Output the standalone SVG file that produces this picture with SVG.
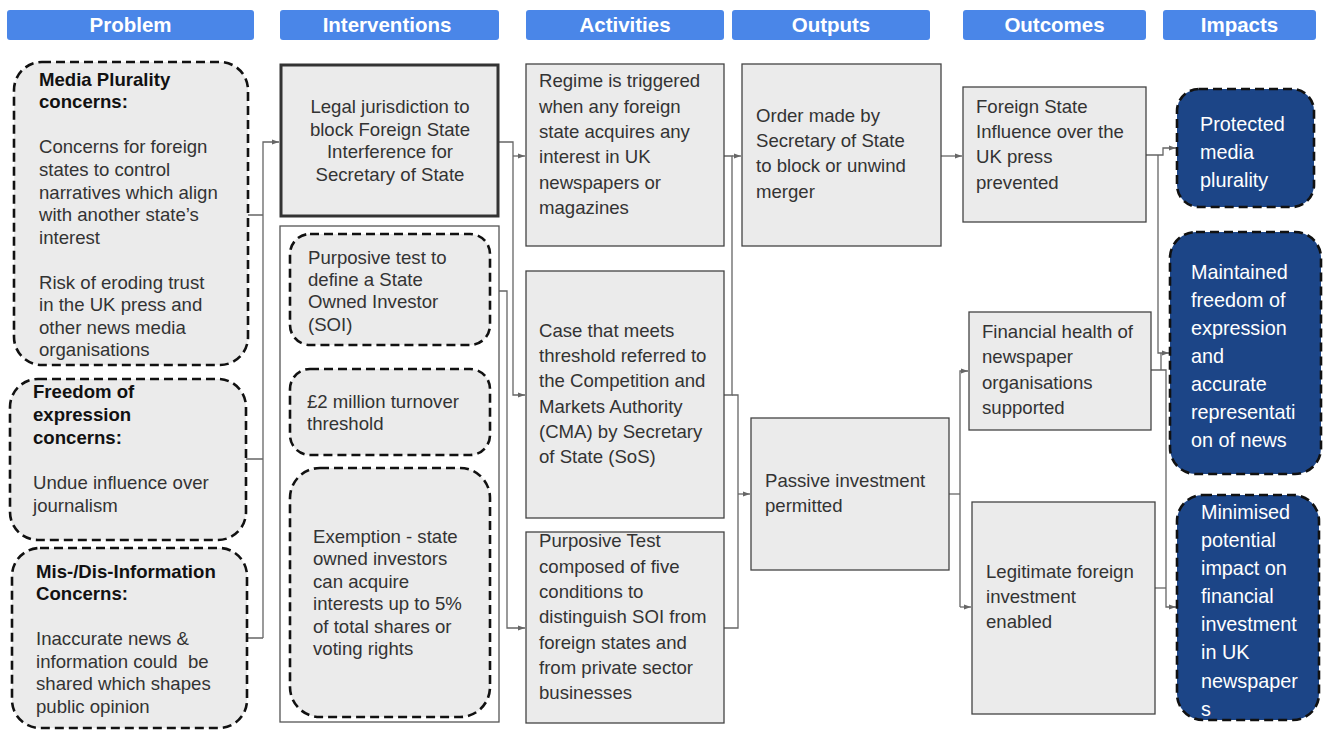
<svg xmlns="http://www.w3.org/2000/svg" width="1323" height="730" viewBox="0 0 1323 730">
<defs>
<marker id="arr" markerUnits="userSpaceOnUse" markerWidth="8" markerHeight="6" refX="7" refY="3" orient="auto">
<path d="M0,0.5 L7,3 L0,5.5 Z" fill="#666"/>
</marker>
<style>
.hdr{fill:#4a86e8;}
.htxt{font-family:"Liberation Sans",Arial,sans-serif;font-size:20.5px;font-weight:bold;fill:#fff;text-anchor:middle;}
.prob{fill:#ebebeb;stroke:#111;stroke-width:2.6;stroke-dasharray:9 5;}
.box{fill:#ebebeb;stroke:#444;stroke-width:1.3;}
.impact{fill:#1c4587;stroke:#111;stroke-width:2.6;stroke-dasharray:9 5;}
.t{font-family:"Liberation Sans",Arial,sans-serif;font-size:18.6px;fill:#333;}
.tb{font-family:"Liberation Sans",Arial,sans-serif;font-size:18.6px;font-weight:bold;fill:#111;}
.ti{font-family:"Liberation Sans",Arial,sans-serif;font-size:19.8px;fill:#fff;}
.c{fill:none;stroke:#666;stroke-width:1.3;}
</style>
</defs>
<rect width="1323" height="730" fill="#fff"/>

<g id="headers">
<rect class="hdr" x="7" y="10" width="247" height="30" rx="3"/><text class="htxt" x="130.5" y="32">Problem</text>
<rect class="hdr" x="280" y="10" width="219" height="30" rx="3"/><text class="htxt" x="387" y="32">Interventions</text>
<rect class="hdr" x="526" y="10" width="198" height="30" rx="3"/><text class="htxt" x="625" y="32">Activities</text>
<rect class="hdr" x="732" y="10" width="198" height="30" rx="3"/><text class="htxt" x="831" y="32">Outputs</text>
<rect class="hdr" x="963" y="10" width="183" height="30" rx="3"/><text class="htxt" x="1054.5" y="32">Outcomes</text>
<rect class="hdr" x="1163" y="10" width="153" height="30" rx="3"/><text class="htxt" x="1239.5" y="32">Impacts</text>
</g>

<g id="connectors">
<path class="c" d="M248,215 H263 M246,459 H263 M247,638 H263"/>
<path class="c" d="M263,638 V142 H279" marker-end="url(#arr)"/>
<path class="c" d="M499,142 H513 V395 H525" marker-end="url(#arr)"/>
<path class="c" d="M513,156 H525" marker-end="url(#arr)"/>
<path class="c" d="M490,291 H507 V628 H525" marker-end="url(#arr)"/>
<path class="c" d="M724,156 H732 V395 H724"/>
<path class="c" d="M732,156 H741" marker-end="url(#arr)"/>
<path class="c" d="M732,395 H738 V628 H724"/>
<path class="c" d="M738,494 H750" marker-end="url(#arr)"/>
<path class="c" d="M941,156 H962" marker-end="url(#arr)"/>
<path class="c" d="M949,494 H960"/>
<path class="c" d="M960,607 V371 H968" marker-end="url(#arr)"/>
<path class="c" d="M960,607 H971" marker-end="url(#arr)"/>
<path class="c" d="M1146,155 H1163 V148 H1176" marker-end="url(#arr)"/>
<path class="c" d="M1158,155 V353 H1169" marker-end="url(#arr)"/>
<path class="c" d="M1151,370 H1166 V607 H1176" marker-end="url(#arr)"/>
<path class="c" d="M1161,370 V353"/>
<path class="c" d="M1155,588 H1166"/>
</g>

<g id="media-plurality">
<rect class="prob" x="14" y="62" width="234" height="303" rx="28"/>
<text class="tb" x="39" y="86">Media Plurality</text>
<text class="tb" x="39" y="108">concerns:</text>
<text class="t" x="39" y="153">Concerns for foreign</text>
<text class="t" x="39" y="176">states to control</text>
<text class="t" x="39" y="199">narratives which align</text>
<text class="t" x="39" y="221">with another state’s</text>
<text class="t" x="39" y="244">interest</text>
<text class="t" x="39" y="289">Risk of eroding trust</text>
<text class="t" x="39" y="311">in the UK press and</text>
<text class="t" x="39" y="334">other news media</text>
<text class="t" x="39" y="356">organisations</text>
</g>

<g id="freedom-expression">
<rect class="prob" x="10" y="379" width="236" height="161" rx="28"/>
<text class="tb" x="33" y="398">Freedom of</text>
<text class="tb" x="33" y="421">expression</text>
<text class="tb" x="33" y="444">concerns:</text>
<text class="t" x="33" y="489">Undue influence over</text>
<text class="t" x="33" y="512">journalism</text>
</g>

<g id="mis-dis-information">
<rect class="prob" x="12" y="548" width="235" height="180" rx="28"/>
<text class="tb" x="36" y="578">Mis-/Dis-Information</text>
<text class="tb" x="36" y="600">Concerns:</text>
<text class="t" x="36" y="645">Inaccurate news &amp;</text>
<text class="t" x="36" y="668" xml:space="preserve">information could  be</text>
<text class="t" x="36" y="690">shared which shapes</text>
<text class="t" x="36" y="713">public opinion</text>
</g>

<g id="legal-jurisdiction">
<rect x="281" y="65" width="217" height="151" fill="#ebebeb" stroke="#333" stroke-width="3"/>
<text class="t" x="390" y="113" text-anchor="middle">Legal jurisdiction to</text>
<text class="t" x="390" y="136" text-anchor="middle">block Foreign State</text>
<text class="t" x="390" y="158" text-anchor="middle">Interference for</text>
<text class="t" x="390" y="181" text-anchor="middle">Secretary of State</text>
</g>

<g id="interventions-container">
<rect x="280" y="226" width="219" height="496" fill="#fff" stroke="#555" stroke-width="1.3"/>
</g>

<g id="purposive-test-soi">
<rect class="prob" x="290" y="234" width="200" height="111" rx="20"/>
<text class="t" x="308" y="264">Purposive test to</text>
<text class="t" x="308" y="286">define a State</text>
<text class="t" x="308" y="308">Owned Investor</text>
<text class="t" x="308" y="331">(SOI)</text>
</g>

<g id="turnover-threshold">
<rect class="prob" x="290" y="369" width="200" height="86" rx="20"/>
<text class="t" x="307" y="408">£2 million turnover</text>
<text class="t" x="307" y="430">threshold</text>
</g>

<g id="exemption">
<rect class="prob" x="290" y="468" width="200" height="249" rx="30"/>
<text class="t" x="313" y="543">Exemption - state</text>
<text class="t" x="313" y="565">owned investors</text>
<text class="t" x="313" y="588">can acquire</text>
<text class="t" x="313" y="610">interests up to 5%</text>
<text class="t" x="313" y="633">of total shares or</text>
<text class="t" x="313" y="655">voting rights</text>
</g>

<g id="regime-triggered">
<rect class="box" x="526" y="64" width="198" height="182"/>
<text class="t" x="539" y="87">Regime is triggered</text>
<text class="t" x="539" y="113">when any foreign</text>
<text class="t" x="539" y="138">state acquires any</text>
<text class="t" x="539" y="163">interest in UK</text>
<text class="t" x="539" y="189">newspapers or</text>
<text class="t" x="539" y="214">magazines</text>
</g>

<g id="case-referred">
<rect class="box" x="526" y="271" width="198" height="247"/>
<text class="t" x="539" y="337">Case that meets</text>
<text class="t" x="539" y="362">threshold referred to</text>
<text class="t" x="539" y="387">the Competition and</text>
<text class="t" x="539" y="413">Markets Authority</text>
<text class="t" x="539" y="438">(CMA) by Secretary</text>
<text class="t" x="539" y="463">of State (SoS)</text>
</g>

<g id="purposive-test-conditions">
<rect class="box" x="526" y="532" width="198" height="191"/>
<text class="t" x="539" y="547">Purposive Test</text>
<text class="t" x="539" y="573">composed of five</text>
<text class="t" x="539" y="598">conditions to</text>
<text class="t" x="539" y="623">distinguish SOI from</text>
<text class="t" x="539" y="649">foreign states and</text>
<text class="t" x="539" y="674">from private sector</text>
<text class="t" x="539" y="699">businesses</text>
</g>

<g id="order-made">
<rect class="box" x="742" y="64" width="199" height="182"/>
<text class="t" x="756" y="122">Order made by</text>
<text class="t" x="756" y="147">Secretary of State</text>
<text class="t" x="756" y="172">to block or unwind</text>
<text class="t" x="756" y="198">merger</text>
</g>

<g id="passive-investment">
<rect class="box" x="751" y="418" width="198" height="152"/>
<text class="t" x="765" y="487">Passive investment</text>
<text class="t" x="765" y="512">permitted</text>
</g>

<g id="foreign-influence-prevented">
<rect class="box" x="963" y="87" width="183" height="135"/>
<text class="t" x="976" y="113">Foreign State</text>
<text class="t" x="976" y="138">Influence over the</text>
<text class="t" x="976" y="163">UK press</text>
<text class="t" x="976" y="189">prevented</text>
</g>

<g id="financial-health">
<rect class="box" x="969" y="312" width="182" height="118"/>
<text class="t" x="982" y="338">Financial health of</text>
<text class="t" x="982" y="363">newspaper</text>
<text class="t" x="982" y="389">organisations</text>
<text class="t" x="982" y="414">supported</text>
</g>

<g id="legitimate-investment">
<rect class="box" x="972" y="502" width="183" height="212"/>
<text class="t" x="986" y="578">Legitimate foreign</text>
<text class="t" x="986" y="603">investment</text>
<text class="t" x="986" y="628">enabled</text>
</g>

<g id="protected-media-plurality">
<rect class="impact" x="1177" y="89" width="137" height="118" rx="22"/>
<text class="ti" x="1200" y="131">Protected</text>
<text class="ti" x="1200" y="159">media</text>
<text class="ti" x="1200" y="187">plurality</text>
</g>

<g id="maintained-freedom">
<rect class="impact" x="1170" y="232" width="151" height="242" rx="26"/>
<text class="ti" x="1191" y="279">Maintained</text>
<text class="ti" x="1191" y="307">freedom of</text>
<text class="ti" x="1191" y="335">expression</text>
<text class="ti" x="1191" y="363">and</text>
<text class="ti" x="1191" y="391">accurate</text>
<text class="ti" x="1191" y="419">representati</text>
<text class="ti" x="1191" y="447">on of news</text>
</g>

<g id="minimised-impact">
<rect class="impact" x="1177" y="495" width="142" height="225" rx="26"/>
<text class="ti" x="1201" y="519">Minimised</text>
<text class="ti" x="1201" y="547">potential</text>
<text class="ti" x="1201" y="575">impact on</text>
<text class="ti" x="1201" y="603">financial</text>
<text class="ti" x="1201" y="631">investment</text>
<text class="ti" x="1201" y="659">in UK</text>
<text class="ti" x="1201" y="688">newspaper</text>
<text class="ti" x="1201" y="716">s</text>
</g>
</svg>
